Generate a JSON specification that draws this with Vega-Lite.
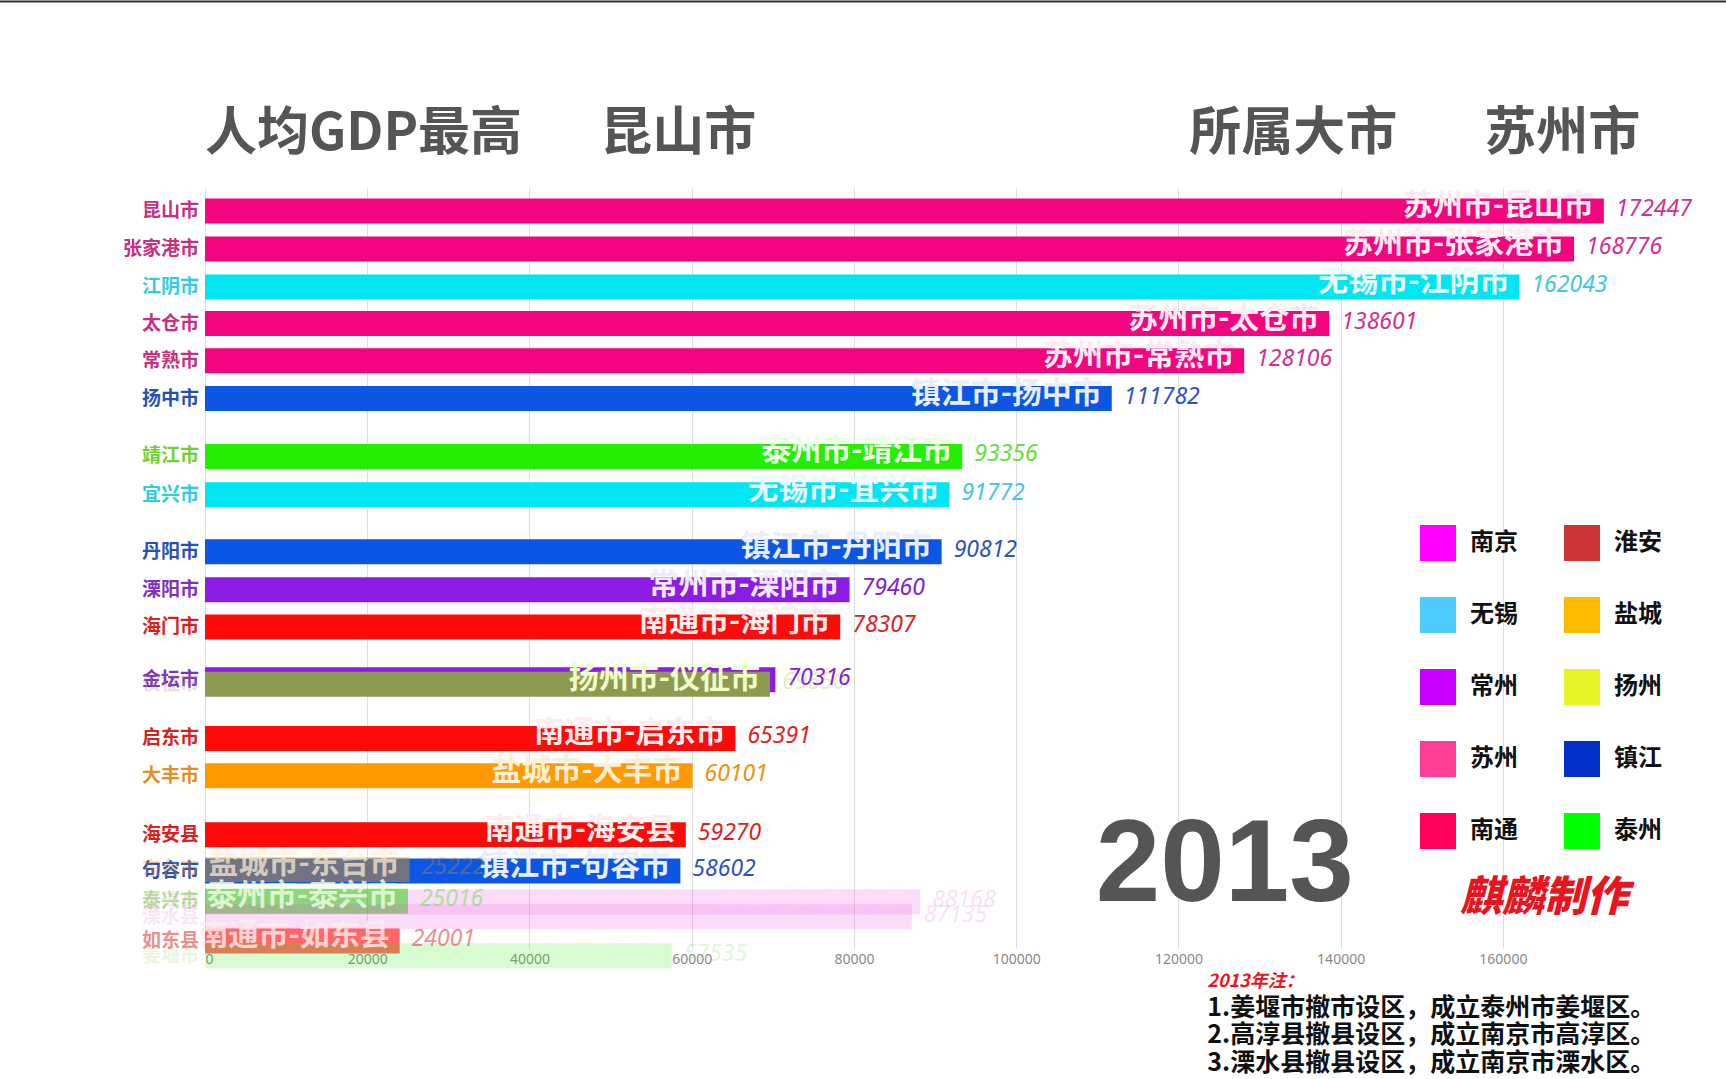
{
  "$schema": "https://vega.github.io/schema/vega-lite/v6.json",
  "width": 1420,
  "height": 760,
  "autosize": {"type": "none"},
  "padding": {"left": 205, "top": 188, "right": 101, "bottom": 131},
  "background": "#ffffff",
  "config": {"view": {"stroke": null}, "text": {"font": "Noto Sans CJK SC"}},
  "data": {
    "values": [
      {"县市": "昆山市", "大市": "苏州", "标签": "苏州市-昆山市", "值": 172447, "名次": 0.9, "阶段": "稳定"},
      {"县市": "张家港市", "大市": "苏州", "标签": "苏州市-张家港市", "值": 168776, "名次": 1.93, "阶段": "稳定"},
      {"县市": "江阴市", "大市": "无锡", "标签": "无锡市-江阴市", "值": 162043, "名次": 2.96, "阶段": "稳定"},
      {"县市": "太仓市", "大市": "苏州", "标签": "苏州市-太仓市", "值": 138601, "名次": 3.95, "阶段": "稳定"},
      {"县市": "常熟市", "大市": "苏州", "标签": "苏州市-常熟市", "值": 128106, "名次": 4.96, "阶段": "稳定"},
      {"县市": "扬中市", "大市": "镇江", "标签": "镇江市-扬中市", "值": 111782, "名次": 5.98, "阶段": "稳定"},
      {"县市": "靖江市", "大市": "泰州", "标签": "泰州市-靖江市", "值": 93356, "名次": 7.55, "阶段": "稳定"},
      {"县市": "宜兴市", "大市": "无锡", "标签": "无锡市-宜兴市", "值": 91772, "名次": 8.59, "阶段": "稳定"},
      {"县市": "丹阳市", "大市": "镇江", "标签": "镇江市-丹阳市", "值": 90812, "名次": 10.13, "阶段": "稳定"},
      {"县市": "溧阳市", "大市": "常州", "标签": "常州市-溧阳市", "值": 79460, "名次": 11.16, "阶段": "稳定"},
      {"县市": "海门市", "大市": "南通", "标签": "南通市-海门市", "值": 78307, "名次": 12.17, "阶段": "稳定"},
      {"县市": "金坛市", "大市": "常州", "标签": "常州市-金坛市", "值": 70316, "名次": 13.6, "阶段": "被遮"},
      {"县市": "仪征市", "大市": "扬州", "标签": "扬州市-仪征市", "值": 69650, "名次": 13.72, "阶段": "遮盖"},
      {"县市": "启东市", "大市": "南通", "标签": "南通市-启东市", "值": 65391, "名次": 15.19, "阶段": "稳定"},
      {"县市": "大丰市", "大市": "盐城", "标签": "盐城市-大丰市", "值": 60101, "名次": 16.2, "阶段": "稳定"},
      {"县市": "海安县", "大市": "南通", "标签": "南通市-海安县", "值": 59270, "名次": 17.8, "阶段": "稳定"},
      {"县市": "句容市", "大市": "镇江", "标签": "镇江市-句容市", "值": 58602, "名次": 18.78, "阶段": "稳定"},
      {"县市": "东台市", "大市": "盐城", "标签": "盐城市-东台市", "值": 25222, "名次": 18.74, "阶段": "渐入"},
      {"县市": "泰兴市", "大市": "泰州", "标签": "泰州市-泰兴市", "值": 25016, "名次": 19.6, "阶段": "浮现"},
      {"县市": "高淳县", "大市": "南京", "标签": "南京市-高淳县", "值": 88168, "名次": 19.62, "阶段": "渐出"},
      {"县市": "溧水县", "大市": "南京", "标签": "南京市-溧水县", "值": 87135, "名次": 20.02, "阶段": "渐出"},
      {"县市": "如东县", "大市": "南通", "标签": "南通市-如东县", "值": 24001, "名次": 20.68, "阶段": "浮现"},
      {"县市": "姜堰市", "大市": "泰州", "标签": "泰州市-姜堰市", "值": 57535, "名次": 21.08, "阶段": "渐出"}
    ]
  },
  "resolve": {"scale": {"color": "independent", "opacity": "independent"}},
  "layer": [
    {
      "mark": {"type": "bar", "orient": "horizontal", "size": 25},
      "encoding": {
        "x": {
          "field": "值", "type": "quantitative", "stack": null,
          "scale": {"domain": [0, 175055], "nice": false, "zero": true},
          "axis": {
            "values": [0, 20000, 40000, 60000, 80000, 100000, 120000, 140000, 160000],
            "format": "d", "title": null, "domain": false, "ticks": false,
            "grid": true, "gridColor": "#dddddd", "gridWidth": 1,
            "labelColor": "#8a8a8a", "labelFontSize": 14, "labelFont": "Noto Sans", "labelPadding": 4
          }
        },
        "y": {
          "field": "名次", "type": "quantitative",
          "scale": {"domain": [0.412, 20.733], "reverse": true, "nice": false, "zero": false},
          "axis": null
        },
        "color": {
          "field": "大市", "type": "nominal", "legend": null,
          "scale": {
            "domain": ["苏州", "无锡", "镇江", "泰州", "常州", "南通", "扬州", "盐城", "南京"],
            "range": ["#F2057F", "#00E6F2", "#0B57E3", "#25EE05", "#8C1CE3", "#FF0A0A", "#8E9A52", "#FF9A00", "#EE44DD"]
          }
        },
        "opacity": {
          "field": "阶段", "type": "nominal", "legend": null,
          "scale": {"type": "ordinal", "domain": ["稳定", "被遮", "遮盖", "渐入", "浮现", "渐出"], "range": [1, 1, 1, 0.42, 0.62, 0.18]}
        }
      }
    },
    {
      "mark": {"type": "text", "align": "right", "baseline": "middle", "dx": -6, "fontSize": 19, "fontWeight": "bold"},
      "encoding": {
        "x": {"datum": 0},
        "y": {"field": "名次", "type": "quantitative"},
        "text": {"field": "县市"},
        "color": {
          "field": "大市", "type": "nominal", "legend": null,
          "scale": {
            "domain": ["苏州", "无锡", "镇江", "泰州", "常州", "南通", "扬州", "盐城", "南京"],
            "range": ["#C8307F", "#30CCE0", "#2650B5", "#70D030", "#8030C0", "#D82020", "#8E9A52", "#E09020", "#E060D0"]
          }
        },
        "opacity": {
          "field": "阶段", "type": "nominal", "legend": null,
          "scale": {"type": "ordinal", "domain": ["稳定", "被遮", "遮盖", "渐入", "浮现", "渐出"], "range": [1, 1, 0.25, 0.3, 0.5, 0.15]}
        }
      }
    },
    {
      "mark": {"type": "text", "align": "right", "baseline": "middle", "dx": -10, "dy": -5, "fontSize": 30, "fontWeight": "bold"},
      "encoding": {
        "x": {"field": "值", "type": "quantitative"},
        "y": {"field": "名次", "type": "quantitative"},
        "text": {"field": "标签"},
        "color": {
          "field": "大市", "type": "nominal", "legend": null,
          "scale": {
            "domain": ["苏州", "无锡", "镇江", "泰州", "常州", "南通", "扬州", "盐城", "南京"],
            "range": ["#FFEAF4", "#E8FCFF", "#E8EEFF", "#ECFFE4", "#F3EAFF", "#FFEDED", "#EEFFC8", "#FFEFD6", "#FFE0F8"]
          }
        },
        "opacity": {
          "field": "阶段", "type": "nominal", "legend": null,
          "scale": {"type": "ordinal", "domain": ["稳定", "被遮", "遮盖", "渐入", "浮现", "渐出"], "range": [1, 0, 1, 0.7, 0.8, 0.08]}
        }
      }
    },
    {
      "mark": {"type": "text", "align": "left", "baseline": "middle", "dx": 12, "dy": -2, "fontSize": 23, "fontStyle": "italic", "font": "Noto Sans"},
      "encoding": {
        "x": {"field": "值", "type": "quantitative"},
        "y": {"field": "名次", "type": "quantitative"},
        "text": {"field": "值", "type": "quantitative", "format": "d"},
        "color": {
          "field": "大市", "type": "nominal", "legend": null,
          "scale": {
            "domain": ["苏州", "无锡", "镇江", "泰州", "常州", "南通", "扬州", "盐城", "南京"],
            "range": ["#D0308F", "#40C8DC", "#2F52C0", "#60E040", "#8020D0", "#E02020", "#9BC840", "#F09010", "#E070D8"]
          }
        },
        "opacity": {
          "field": "阶段", "type": "nominal", "legend": null,
          "scale": {"type": "ordinal", "domain": ["稳定", "被遮", "遮盖", "渐入", "浮现", "渐出"], "range": [1, 1, 0.3, 0.3, 0.5, 0.2]}
        }
      }
    },
    {
      "data": {"values": [
        {"图例": "南京"}, {"图例": "淮安"}, {"图例": "无锡"}, {"图例": "盐城"}, {"图例": "常州"},
        {"图例": "扬州"}, {"图例": "苏州"}, {"图例": "镇江"}, {"图例": "南通"}, {"图例": "泰州"}
      ]},
      "mark": {"type": "square", "opacity": 0},
      "encoding": {
        "color": {
          "field": "图例", "type": "nominal",
          "scale": {
            "domain": ["南京", "无锡", "常州", "苏州", "南通", "淮安", "盐城", "扬州", "镇江", "泰州"],
            "range": ["#FF00FF", "#4DCCFF", "#C800FF", "#FF3C96", "#FF005A", "#CC3438", "#FFBB00", "#E5F52A", "#0030C8", "#00FF00"]
          },
          "legend": {
            "orient": "none", "legendX": 1215, "legendY": 337, "columns": 2,
            "symbolType": "square", "symbolSize": 1296, "symbolStrokeWidth": 0, "symbolOpacity": 1,
            "labelFontSize": 24, "labelFont": "Noto Sans CJK SC", "labelFontWeight": "bold", "labelColor": "#111111",
            "labelOffset": 14, "columnPadding": 46, "rowPadding": 36, "title": null, "padding": 0
          }
        }
      }
    },
    {
      "data": {"values": [{}]},
      "mark": {"type": "rule", "color": "#333333", "strokeWidth": 2},
      "encoding": {"x": {"datum": -25300}, "x2": {"datum": 188000}, "y": {"datum": -4.78}}
    },
    {
      "data": {"values": [{}]},
      "mark": {"type": "text", "text": "人均GDP最高", "align": "left", "baseline": "alphabetic", "fontSize": 52, "fontWeight": "bold", "color": "#555555"},
      "encoding": {"x": {"datum": 0}, "y": {"datum": -0.75}}
    },
    {
      "data": {"values": [{}]},
      "mark": {"type": "text", "text": "昆山市", "align": "left", "baseline": "alphabetic", "fontSize": 52, "fontWeight": "bold", "color": "#555555"},
      "encoding": {"x": {"datum": 48726}, "y": {"datum": -0.75}}
    },
    {
      "data": {"values": [{}]},
      "mark": {"type": "text", "text": "所属大市", "align": "left", "baseline": "alphabetic", "fontSize": 52, "fontWeight": "bold", "color": "#555555"},
      "encoding": {"x": {"datum": 121324}, "y": {"datum": -0.75}}
    },
    {
      "data": {"values": [{}]},
      "mark": {"type": "text", "text": "苏州市", "align": "left", "baseline": "alphabetic", "fontSize": 52, "fontWeight": "bold", "color": "#555555"},
      "encoding": {"x": {"datum": 157691}, "y": {"datum": -0.75}}
    },
    {
      "data": {"values": [{}]},
      "mark": {"type": "text", "text": "2013", "align": "center", "baseline": "alphabetic", "fontSize": 116, "fontWeight": "bold", "font": "Liberation Sans", "color": "#555555"},
      "encoding": {"x": {"datum": 125712}, "y": {"datum": 19.6}}
    },
    {
      "data": {"values": [{}]},
      "mark": {"type": "text", "text": "麒麟制作", "align": "center", "baseline": "alphabetic", "fontSize": 42, "fontWeight": 900, "fontStyle": "italic", "color": "#E8141E"},
      "encoding": {"x": {"datum": 165100}, "y": {"datum": 19.86}}
    },
    {
      "data": {"values": [{}]},
      "mark": {"type": "text", "text": "2013年注：", "align": "left", "baseline": "alphabetic", "fontSize": 18, "fontWeight": "bold", "fontStyle": "italic", "color": "#E8141E"},
      "encoding": {"x": {"datum": 123557}, "y": {"datum": 21.93}}
    },
    {
      "data": {"values": [{}]},
      "mark": {
        "type": "text",
        "text": ["1.姜堰市撤市设区，成立泰州市姜堰区。", "2.高淳县撤县设区，成立南京市高淳区。", "3.溧水县撤县设区，成立南京市溧水区。"],
        "align": "left", "baseline": "alphabetic", "fontSize": 25, "lineHeight": 27.5, "fontWeight": "bold", "color": "#111111"
      },
      "encoding": {"x": {"datum": 123557}, "y": {"datum": 22.7}}
    }
  ]
}
